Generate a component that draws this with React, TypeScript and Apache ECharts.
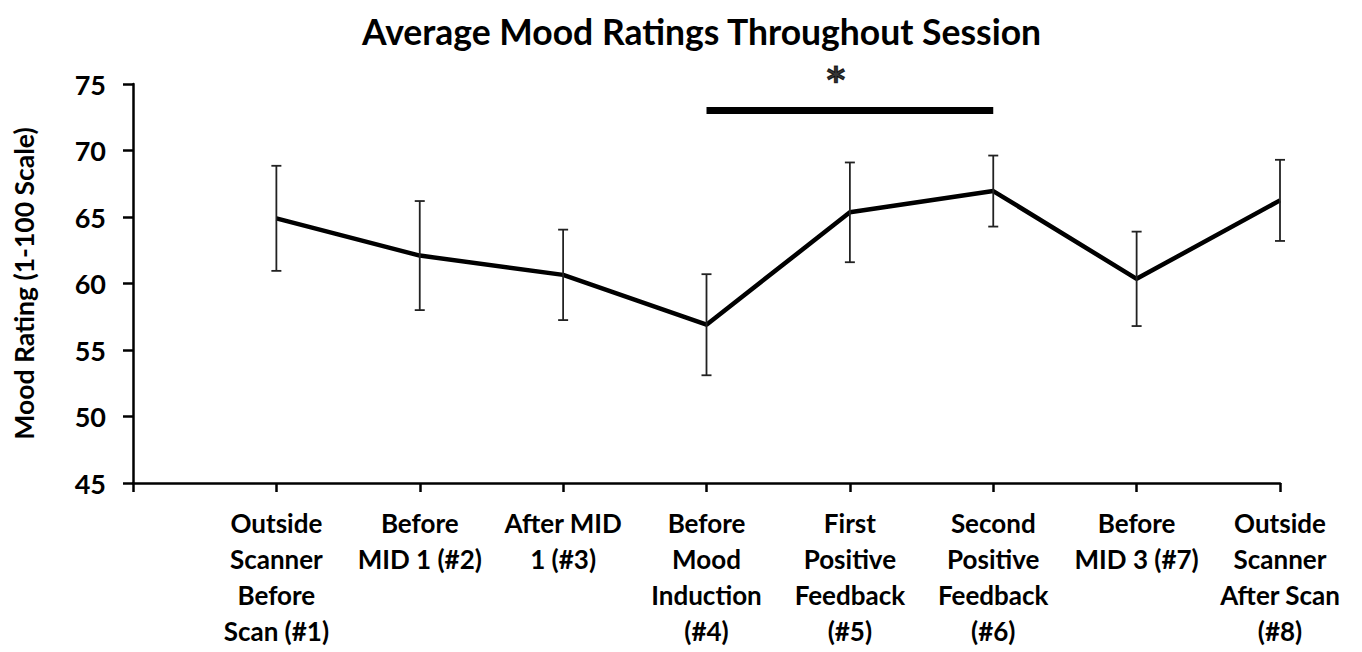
import React, { useEffect, useRef } from "react";
import * as echarts from "echarts";

const categories = [
  "",
  "Outside\nScanner\nBefore\nScan (#1)",
  "Before\nMID 1 (#2)",
  "After MID\n1 (#3)",
  "Before\nMood\nInduction\n(#4)",
  "First\nPositive\nFeedback\n(#5)",
  "Second\nPositive\nFeedback\n(#6)",
  "Before\nMID 3 (#7)",
  "Outside\nScanner\nAfter Scan\n(#8)",
];
const means = [64.9, 62.1, 60.65, 56.9, 65.35, 66.95, 60.35, 66.25];
const errors = [3.95, 4.1, 3.4, 3.8, 3.75, 2.67, 3.55, 3.05];
const sigFrom = 4;
const sigTo = 6;
const sigLevel = 73;
const sigMark = "*";
const yTicks = { min: 45, max: 75, interval: 5 };

const FONT = "Lato";

export default function App() {
  const ref = useRef<HTMLDivElement>(null);
  useEffect(() => {
    if (!ref.current) return;
    const chart = echarts.init(ref.current, null, { renderer: "svg" });
    const lineData = ["-", ...means];
    const errData = means.map((m, i) => [i + 1, m - errors[i], m + errors[i]]);
    const mid = Math.round((sigFrom + sigTo) / 2);
    const sigData = categories.map((_, i) => (i < sigFrom || i > sigTo ? "-" : sigLevel));
    chart.setOption({
      animation: false,
      backgroundColor: "#fff",
      title: {
        text: "Average Mood Ratings Throughout Session",
        left: 357,
        top: 8,
        textStyle: { fontFamily: FONT, fontWeight: "bold", fontSize: 35.5, color: "#000" },
      },
      grid: { left: 133, right: 82, top: 84, bottom: 169, containLabel: false },
      xAxis: {
        type: "category",
        data: categories,
        boundaryGap: false,
        axisLine: { lineStyle: { color: "#000", width: 2.5 } },
        axisTick: { show: true, interval: 0, length: 9, lineStyle: { color: "#000", width: 2.5 } },
        axisLabel: {
          interval: 0,
          margin: 22,
          fontFamily: FONT,
          fontWeight: "bold",
          fontSize: 26,
          lineHeight: 36,
          color: "#000",
          align: "center",
        },
        splitLine: { show: false },
      },
      yAxis: {
        type: "value",
        min: yTicks.min,
        max: yTicks.max,
        interval: yTicks.interval,
        name: "Mood Rating (1-100 Scale)",
        nameLocation: "middle",
        nameGap: 96,
        nameTextStyle: { fontFamily: FONT, fontWeight: "bold", fontSize: 26.5, color: "#000" },
        axisLine: { show: true, lineStyle: { color: "#000", width: 2.5 } },
        axisTick: { show: true, length: 10, lineStyle: { color: "#000", width: 2.5 } },
        axisLabel: {
          margin: 27,
          fontFamily: FONT,
          fontWeight: "bold",
          fontSize: 27,
          color: "#000",
        },
        splitLine: { show: false },
      },
      series: [
        {
          type: "line",
          data: lineData,
          symbol: "none",
          lineStyle: { color: "#000", width: 4.5 },
          z: 3,
        },
        {
          type: "custom",
          data: errData,
          z: 4,
          renderItem: (params: any, api: any) => {
            const x = api.value(0);
            const lo = api.coord([x, api.value(1)]);
            const hi = api.coord([x, api.value(2)]);
            const hw = 5;
            const style = { stroke: "#222", lineWidth: 1.8 };
            return {
              type: "group",
              children: [
                { type: "line", shape: { x1: lo[0], y1: lo[1], x2: hi[0], y2: hi[1] }, style },
                { type: "line", shape: { x1: hi[0] - hw, y1: hi[1], x2: hi[0] + hw, y2: hi[1] }, style },
                { type: "line", shape: { x1: lo[0] - hw, y1: lo[1], x2: lo[0] + hw, y2: lo[1] }, style },
              ],
            };
          },
        },
        {
          type: "line",
          data: sigData,
          symbol: "none",
          lineStyle: { color: "#000", width: 7, cap: "butt" },
          z: 5,
        },
        {
          type: "scatter",
          data: [[mid, sigLevel]],
          symbol: "circle",
          symbolSize: 2,
          itemStyle: { color: "rgba(0,0,0,0)" },
          label: {
            show: true,
            formatter: sigMark,
            position: "top",
            distance: 2,
            offset: [-14, -10],
            fontSize: 35,
            fontWeight: "bold",
            color: "#000",
            textBorderColor: "#000",
            textBorderWidth: 1.2,
            fontFamily: "DejaVu Sans",
          },
          z: 6,
        },
      ],
    });
    return () => chart.dispose();
  }, []);
  return (
    <div
      ref={ref}
      style={{ position: "absolute", left: 0, top: 0, width: 1362, height: 652, background: "#fff" }}
    />
  );
}
